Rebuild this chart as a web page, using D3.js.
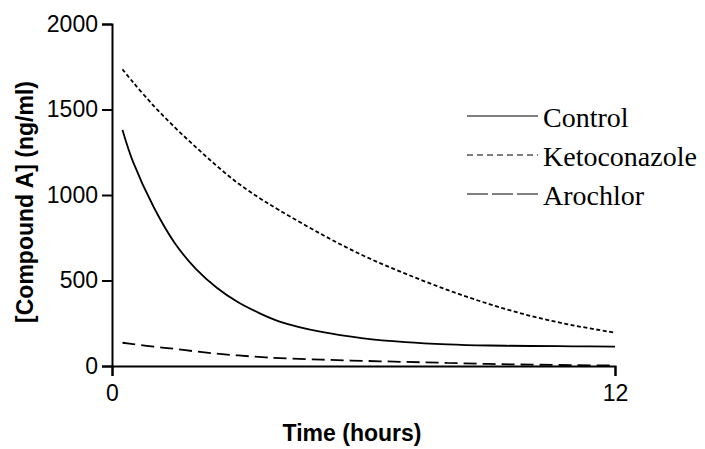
<!DOCTYPE html>
<html>
<head>
<meta charset="utf-8">
<style>
  body { margin: 0; background: #fff; }
  svg { display: block; }
</style>
</head>
<body>
<svg width="705" height="449"></svg>
<script src="https://d3js.org/d3.v7.min.js"></script>
<script>

// values
var times    = [0.25, 0.5, 1, 1.5, 2, 2.5, 3, 3.5, 4, 5, 6, 7, 8, 9, 10, 11, 12];
var control  = [1380, 1195, 927, 718, 568, 458, 374, 311, 260, 199, 162, 140, 127, 120, 117, 115, 113];
var keto     = [1735, 1660, 1520, 1395, 1280, 1170, 1070, 985, 910, 770, 645, 540, 445, 362, 292, 238, 195];
var arochlor = [136, 128, 113, 100, 85, 72, 62, 53, 46, 37, 30, 24, 18, 12, 8, 5, 3];

var seriesNames = ["Control", "Ketoconazole", "Arochlor"];
var xTicks = [0, 12];
var yTicks = [0, 500, 1000, 1500, 2000];

var svg = d3.select("svg"),
    margin = {top: 24, right: 90, bottom: 83, left: 112},
    width = +svg.attr("width") - margin.left - margin.right,
    height = +svg.attr("height") - margin.top - margin.bottom,
    g = svg.append("g").attr("transform", "translate(" + margin.left + "," + margin.top + ")");

var x = d3.scaleLinear().domain([0, 12]).range([0, width]);
var y = d3.scaleLinear().domain([0, 2000]).range([height, 0]);

var dashes = {"Control": null, "Ketoconazole": "4,2.5", "Arochlor": "13,6"};
var legendDashes = {"Control": null, "Ketoconazole": "6,4", "Arochlor": "21,4"};
var values = {"Control": control, "Ketoconazole": keto, "Arochlor": arochlor};

var line = d3.line()
    .curve(d3.curveCatmullRom.alpha(0.5))
    .x(function(d, i) { return x(times[i]); })
    .y(function(d) { return y(d); });

var sansFont = "'Liberation Sans', Arial, sans-serif";

// axes
var xAxis = g.append("g")
    .attr("transform", "translate(0," + height + ")")
    .call(d3.axisBottom(x).tickValues(xTicks).tickFormat(d3.format("d")).tickSize(10).tickPadding(9));

var yAxis = g.append("g")
    .call(d3.axisLeft(y).tickValues(yTicks).tickFormat(d3.format("d")).tickSize(10).tickPadding(4));

[xAxis, yAxis].forEach(function(a) {
    a.selectAll("path, line").attr("stroke", "#000").attr("stroke-width", 2);
    a.selectAll("text").attr("fill", "#000")
        .style("font-family", sansFont).style("font-size", "23px");
});

// curves
seriesNames.forEach(function(name) {
    g.append("path")
        .datum(values[name])
        .attr("fill", "none")
        .attr("stroke", "#000")
        .attr("stroke-width", 1.8)
        .attr("stroke-dasharray", dashes[name])
        .attr("d", line);
});

// legend
var legend = svg.append("g").attr("class", "legend");
seriesNames.forEach(function(name, i) {
    var yy = 116 + i * 39;
    legend.append("line")
        .attr("x1", 467).attr("x2", 538)
        .attr("y1", yy).attr("y2", yy)
        .attr("stroke", "#000")
        .attr("stroke-width", 1.2)
        .attr("stroke-dasharray", legendDashes[name]);
    legend.append("text")
        .attr("x", 543)
        .attr("y", yy + 11)
        .style("font-family", "'Liberation Serif', 'Times New Roman', serif")
        .style("font-size", "28px")
        .text(name);
});

// axis titles
svg.append("text")
    .attr("x", 352)
    .attr("y", 441)
    .attr("text-anchor", "middle")
    .style("font-family", sansFont)
    .style("font-size", "23px")
    .style("font-weight", "bold")
    .text("Time (hours)");

svg.append("text")
    .attr("transform", "translate(33,202) rotate(-90)")
    .attr("text-anchor", "middle")
    .style("font-family", sansFont)
    .style("font-size", "23px")
    .style("font-weight", "bold")
    .text("[Compound A] (ng/ml)");

</script>
</body>
</html>
